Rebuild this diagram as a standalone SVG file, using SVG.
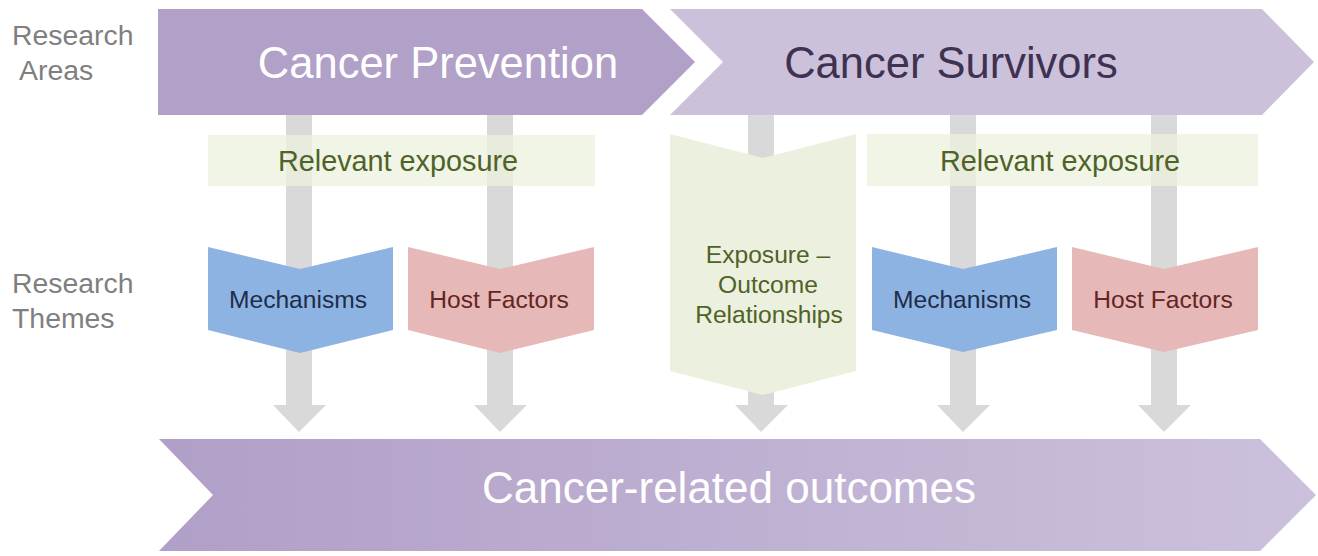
<svg xmlns="http://www.w3.org/2000/svg" width="1318" height="556" viewBox="0 0 1318 556">
<style>
text{font-family:"Liberation Sans",Arial,sans-serif}
.lbl{fill:#7f7f7f;font-size:28.4px}
.big{font-size:43.5px;text-anchor:middle}
.th{font-size:24.6px;text-anchor:middle}
.bar{fill:#d9d9d9}
.rel{fill:#ebf1de;fill-opacity:0.75}
.green{fill:#4f6228}
</style>
<defs>
<linearGradient id="gOut" x1="0" y1="0" x2="1" y2="0">
<stop offset="0" stop-color="#b09fc7"/>
<stop offset="1" stop-color="#ccc1dc"/>
</linearGradient>
</defs>
<g id="labels">
<text class="lbl" x="12" y="45">Research</text>
<text class="lbl" x="19" y="80">Areas</text>
<text class="lbl" x="12" y="293">Research</text>
<text class="lbl" x="12" y="328">Themes</text>
</g>
<g id="connectors">
<path class="bar" d="M286,112 H312 V405 H326 L299,432 L273,405 H286 Z"/>
<path class="bar" d="M487,112 H513 V405 H527 L500,432 L474,405 H487 Z"/>
<path class="bar" d="M748,112 H774 V405 H788 L761,432 L735,405 H748 Z"/>
<path class="bar" d="M950,112 H976 V405 H990 L963,432 L937,405 H950 Z"/>
<path class="bar" d="M1151,112 H1177 V405 H1191 L1164,432 L1138,405 H1151 Z"/>
</g>
<g id="cancer-prevention">
<path d="M158,9 H642 L695,62 L642,115 H158 Z" fill="#b1a0c7"/>
<text class="big" x="438" y="78" fill="#ffffff">Cancer Prevention</text>
</g>
<g id="cancer-survivors">
<path d="M670,9 H1262 L1314,62 L1262,115 H670 L723,62 Z" fill="#ccc1da"/>
<text class="big" x="951" y="78" fill="#3f3151">Cancer Survivors</text>
</g>
<g id="relevant-exposure-1">
<rect class="rel" x="208" y="135" width="387" height="51"/>
<text class="th green" x="398" y="171" style="font-size:28.8px">Relevant exposure</text>
</g>
<g id="relevant-exposure-2">
<rect class="rel" x="867" y="134" width="391" height="52"/>
<text class="th green" x="1060" y="171" style="font-size:28.8px">Relevant exposure</text>
</g>
<g id="mechanisms-1">
<path d="M208,247 L300,269 L393,247 V330 L300,353 L208,330 Z" fill="#8db3e2"/>
<text class="th" x="298" y="308" fill="#1f2d4a">Mechanisms</text>
</g>
<g id="host-factors-1">
<path d="M408,247 L500,269 L594,247 V330 L500,353 L408,330 Z" fill="#e6b8b7"/>
<text class="th" x="499" y="308" fill="#632523">Host Factors</text>
</g>
<g id="exposure-outcome">
<path d="M670,134 L763,158 L856,134 V371 L763,395 L670,371 Z" fill="#ebf1de"/>
<text class="th green" x="768" y="263">Exposure –</text>
<text class="th green" x="768" y="293">Outcome</text>
<text class="th green" x="769" y="323">Relationships</text>
</g>
<g id="mechanisms-2">
<path d="M872,247 L963,269 L1057,247 V330 L963,352 L872,330 Z" fill="#8db3e2"/>
<text class="th" x="962" y="308" fill="#1f2d4a">Mechanisms</text>
</g>
<g id="host-factors-2">
<path d="M1072,247 L1164,269 L1258,247 V330 L1164,352 L1072,330 Z" fill="#e6b8b7"/>
<text class="th" x="1163" y="308" fill="#632523">Host Factors</text>
</g>
<g id="cancer-related-outcomes">
<path d="M159,439 H1260 L1316,495 L1260,551 H159 L213,495 Z" fill="url(#gOut)"/>
<text class="big" x="729" y="503" fill="#ffffff" style="font-size:44px">Cancer-related outcomes</text>
</g>
</svg>
